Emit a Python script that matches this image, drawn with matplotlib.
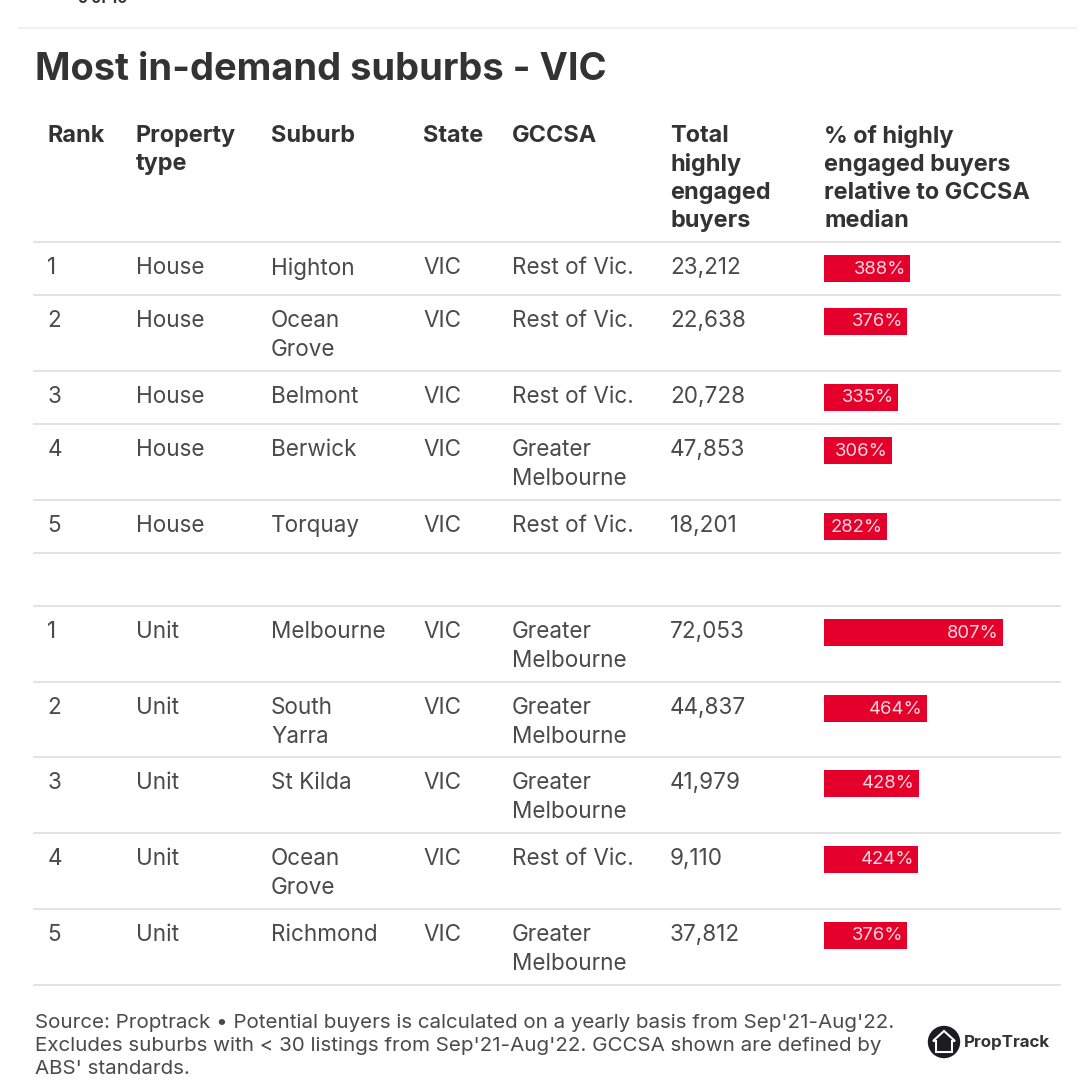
import matplotlib
matplotlib.use("Agg")
import matplotlib.pyplot as plt
from matplotlib.patches import Circle, Polygon

FONT = ["Inter", "DejaVu Sans"]
plt.rcParams["font.family"] = FONT

W, H = 1080, 1084
title = "Most in-demand suburbs - VIC"
headers = ["Rank", "Property\ntype", "Suburb", "State", "GCCSA",
           "Total\nhighly\nengaged\nbuyers", "% of highly\nengaged buyers\nrelative to GCCSA\nmedian"]
ranks = ["1", "2", "3", "4", "5", "1", "2", "3", "4", "5"]
ptypes = ["House"] * 5 + ["Unit"] * 5
suburbs = ["Highton", "Ocean\nGrove", "Belmont", "Berwick", "Torquay",
           "Melbourne", "South\nYarra", "St Kilda", "Ocean\nGrove", "Richmond"]
states = ["VIC"] * 10
gccsa = ["Rest of Vic.", "Rest of Vic.", "Rest of Vic.", "Greater\nMelbourne", "Rest of Vic.",
         "Greater\nMelbourne", "Greater\nMelbourne", "Greater\nMelbourne", "Rest of Vic.", "Greater\nMelbourne"]
totals = ["23,212", "22,638", "20,728", "47,853", "18,201",
          "72,053", "44,837", "41,979", "9,110", "37,812"]
pct = [388, 376, 335, 306, 282, 807, 464, 428, 424, 376]
source = ("Source: Proptrack \u2022 Potential buyers is calculated on a yearly basis from Sep'21-Aug'22.\n"
          "Excludes suburbs with < 30 listings from Sep'21-Aug'22. GCCSA shown are defined by\n"
          "ABS' standards.")

row_tops = [242, 295, 371, 424, 500, 606, 682, 757, 833, 909]
rules = [242, 295, 371, 424, 500, 553, 606, 682, 757, 833, 909, 985]
col_x = [47.5, 135.5, 271, 423, 512, 670]
DARK, BODY, RED = "#333333", "#4a4a4a", "#e4002b"
HEAD_SIZE, BODY_SIZE = 16.9, 16.2

fig = plt.figure(figsize=(W / 100, H / 100), dpi=100, facecolor="white")
ax = fig.add_axes([0, 0, 1, 1])
ax.set_xlim(0, W)
ax.set_ylim(H, 0)
ax.axis("off")

# clipped top page marker and divider
ax.text(103, 3, "5 of 10", fontsize=11, fontweight="bold", color=DARK, ha="center", va="baseline",
        clip_on=False)
ax.plot([19, 1076], [28, 28], color="#f0f0f0", lw=1.5)

ax.text(35, 70, title, fontsize=27.4, fontweight="bold", color=DARK, va="center", ha="left")

for x, h in zip(col_x + [824], headers):
    ax.text(x, 125, h, fontsize=HEAD_SIZE, fontweight="bold", color=DARK, va="top", ha="left",
            linespacing=1.35)

for y in rules:
    ax.plot([34, 1060], [y, y], color="#dddddd", lw=1.2)

for i, top in enumerate(row_tops):
    for x, column in zip(col_x, [ranks, ptypes, suburbs, states, gccsa, totals]):
        ax.text(x, top + 15, column[i], fontsize=BODY_SIZE, color=BODY, va="top", ha="left",
                linespacing=1.43)

# bars: own axes with a value scale
px_per_unit = 179 / 807
bx = fig.add_axes([824 / W, 0, 236 / W, 1])
bx.set_xlim(0, 236 / px_per_unit)
bx.set_ylim(H, 0)
bx.axis("off")
centers = [t + 26.5 for t in row_tops]
bx.barh(centers, pct, height=27.5, left=0, color=RED)
for c, v in zip(centers, pct):
    bx.text(v - 4 / px_per_unit, c + 0.5, f"{v}%", color="#ffd9df", fontsize=13.3, ha="right", va="center")

ax.text(35, 1014, source, fontsize=14.8, color=BODY, va="top", ha="left", linespacing=1.35)

# logo
ax.add_patch(Circle((944, 1042), 15.5, color="#1c1c1e"))
ax.add_patch(Polygon([(936, 1052), (936, 1041), (933, 1041), (944, 1031), (955, 1041), (952, 1041), (952, 1052)],
                     closed=True, fill=False, ec="white", lw=1.5))
ax.text(964, 1043, "PropTrack", fontsize=12.2, fontweight="bold", color="#333333", va="center", ha="left")

fig.savefig("out.png", dpi=100)
